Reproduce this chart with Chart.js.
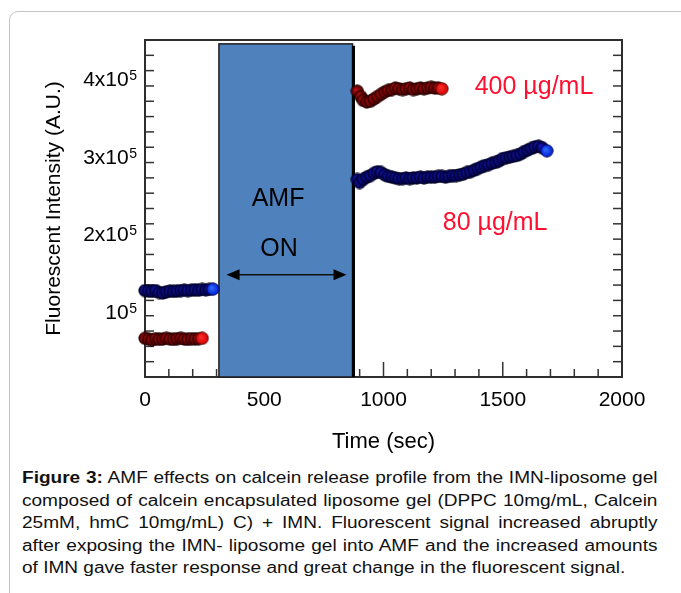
<!DOCTYPE html>
<html>
<head>
<meta charset="utf-8">
<title>AMF calcein release</title>
<script src="https://cdn.jsdelivr.net/npm/chart.js@4"></script>
<style>
    html, body { margin: 0; padding: 0; background: #fff; overflow: hidden; }
    body { width: 681px; height: 593px; position: relative; font-family: "Liberation Sans", Arial, sans-serif; }
    .card { position: absolute; left: 9px; top: 11px; width: 720px; height: 640px; border: 1px solid #c4c4c4; border-radius: 9px; }
    #chart { position: absolute; left: 0; top: 0; }
    .caption { position: absolute; left: 22px; top: 467px; width: 534px; font-size: 16px; line-height: 22.6px; color: #111;
               transform: scaleX(1.19); transform-origin: 0 0; white-space: nowrap; }
    .caption div { text-align: justify; text-align-last: justify; }
    .caption div.last { text-align-last: left; }
</style>
</head>
<body>
<div class="card"></div>
<canvas id="chart" width="681" height="462"></canvas>
<div class="caption">
    <div><b>Figure 3:</b> AMF effects on calcein release profile from the IMN-liposome gel</div>
    <div>composed of calcein encapsulated liposome gel (DPPC 10mg/mL, Calcein</div>
    <div>25mM, hmC 10mg/mL) C) + IMN. Fluorescent signal increased abruptly</div>
    <div>after exposing the IMN- liposome gel into AMF and the increased amounts</div>
    <div class="last">of IMN gave faster response and great change in the fluorescent signal.</div>
</div>
<script>
// 시간 (sec) / 형광 세기 (A.U.) - 그림에서 읽은 값
const timeRedBefore = [0, 15, 30, 45, 60, 75, 90, 105, 120, 135, 150, 165, 180, 195, 210, 225, 240];
const redBefore = [65000, 64000, 63000, 64500, 63500, 64000, 65000, 64000, 63500, 64500, 65000, 64000, 63500, 64500, 64000, 64500, 65000];

const timeBlueBefore = [0, 15, 30, 45, 60, 75, 90, 105, 120, 135, 150, 165, 180, 195, 210, 225, 240, 255, 270, 285];
const blueBefore = [126500, 126000, 125500, 126500, 124000, 123500, 125000, 126000, 125500, 126000, 126500, 127000, 126500, 127000, 127500, 127000, 128000, 127500, 128000, 128500];

const timeRedAfter = [890, 905, 915, 930, 945, 960, 975, 990, 1005, 1020, 1035, 1050, 1065, 1080, 1095, 1110, 1125, 1140, 1155, 1170, 1185, 1200, 1215, 1230, 1245];
const redAfter = [384000, 377000, 372000, 370000, 371000, 374000, 377000, 380000, 383000, 385000, 386000, 388000, 387000, 386000, 387000, 388000, 386000, 387000, 388000, 387000, 388000, 389000, 388000, 388000, 387000];

const timeBlueAfter = [890, 900, 915, 930, 945, 960, 975, 990, 1005, 1020, 1035, 1050, 1065, 1080, 1095, 1110, 1125, 1140, 1155, 1170, 1185, 1200, 1215, 1230, 1245, 1260, 1275, 1290, 1305, 1320, 1335, 1350, 1365, 1380, 1395, 1410, 1425, 1440, 1455, 1470, 1485, 1500, 1515, 1530, 1545, 1560, 1575, 1590, 1605, 1620, 1635, 1650, 1665, 1685];
const blueAfter = [270000, 266000, 270000, 273000, 275000, 278000, 280000, 279000, 276000, 274000, 273000, 272000, 271000, 271000, 272000, 271000, 272000, 272000, 273000, 272000, 273000, 273000, 273000, 274000, 274000, 273000, 274000, 275000, 275000, 276000, 277000, 279000, 280000, 282000, 284000, 286000, 288000, 289000, 291000, 292000, 294000, 297000, 298000, 299000, 300000, 301000, 303000, 306000, 308000, 310000, 312000, 313000, 311000, 307000];

// y축 라벨 (값 -> 앞부분, 지수)
const yLabelValues = [100000, 200000, 300000, 400000];
const yLabelTexts = ['10', '2x10', '3x10', '4x10'];
const yLabelExp = '5';

// AMF ON 구간
const AMF_START = 310;
const AMF_END = 870;
const AMF_TOP = 445000;

const FONT = '"Liberation Sans", Arial, sans-serif';

function pairs(xs, ys) {
    return xs.map((t, i) => ({ x: t, y: ys[i] }));
}

// 구슬 모양 점 이미지 (방사형 그라데이션)
function ballImage(light, dark, edge) {
    const c = document.createElement('canvas');
    c.width = 14;
    c.height = 14;
    const g = c.getContext('2d');
    const grad = g.createRadialGradient(5.5, 5.5, 0, 7, 7, 6.5);
    grad.addColorStop(0, light);
    grad.addColorStop(1, dark);
    g.fillStyle = grad;
    g.beginPath();
    g.arc(7, 7, 6.2, 0, Math.PI * 2);
    g.fill();
    g.strokeStyle = edge;
    g.lineWidth = 0.8;
    g.stroke();
    return c;
}

const redBall = ballImage('#c81010', '#3a0000', '#1a0000');
const redBallLast = ballImage('#ff3030', '#d00000', '#400000');
const blueBall = ballImage('#1818c8', '#00003a', '#00001a');
const blueBallLast = ballImage('#3070ff', '#0018d0', '#000040');

function series(xs, ys, img, imgLast) {
    return {
        data: pairs(xs, ys),
        showLine: false,
        pointRadius: 6,
        pointStyle: ctx => (ctx.dataIndex === xs.length - 1 ? imgLast : img),
        clip: false
    };
}

function line(ctx, x1, y1, x2, y2) {
    ctx.beginPath();
    ctx.moveTo(x1, y1);
    ctx.lineTo(x2, y2);
    ctx.stroke();
}

const decor = {
    id: 'decor',
    beforeDatasetsDraw(chart) {
        const { ctx, chartArea: a, scales: { x, y } } = chart;
        ctx.save();

        // 안쪽 눈금
        ctx.strokeStyle = '#333';
        ctx.lineWidth = 1.5;
        x.ticks.forEach(t => {
            const px = x.getPixelForValue(t.value);
            const len = t.value % 500 === 0 ? 15 : 8;
            line(ctx, px, a.bottom, px, a.bottom - len);
        });
        y.ticks.forEach(t => {
            const py = y.getPixelForValue(t.value);
            const len = t.value % 100000 === 0 ? 16 : 9;
            line(ctx, a.left, py, a.left + len, py);
            line(ctx, a.right, py, a.right - len, py);
        });

        // y축 라벨 (위첨자 지수)
        ctx.fillStyle = '#000';
        ctx.textAlign = 'left';
        ctx.textBaseline = 'alphabetic';
        yLabelValues.forEach((v, i) => {
            const py = y.getPixelForValue(v);
            ctx.font = '14px ' + FONT;
            const supW = ctx.measureText(yLabelExp).width;
            ctx.font = '21px ' + FONT;
            const mainW = ctx.measureText(yLabelTexts[i]).width;
            const right = a.left - 8;
            ctx.fillText(yLabelTexts[i], right - supW - mainW - 0.5, py + 7.5);
            ctx.font = '14px ' + FONT;
            ctx.fillText(yLabelExp, right - supW, py + 1.5);
        });

        // 테두리
        ctx.lineWidth = 2;
        ctx.strokeStyle = '#2e2e2e';
        ctx.strokeRect(a.left, a.top, a.right - a.left, a.bottom - a.top);

        // AMF 박스
        const bx1 = x.getPixelForValue(AMF_START);
        const bx2 = x.getPixelForValue(AMF_END);
        const by = y.getPixelForValue(AMF_TOP);
        ctx.fillStyle = '#4f81bd';
        ctx.fillRect(bx1, by, bx2 - bx1, a.bottom - by);
        ctx.strokeStyle = '#1e1e1e';
        ctx.lineWidth = 1.5;
        ctx.strokeRect(bx1, by, bx2 - bx1, a.bottom - by);
        ctx.strokeStyle = '#000';
        ctx.lineWidth = 3;
        line(ctx, bx2 + 1, by + 2, bx2 + 1, a.bottom);

        // AMF / ON
        ctx.fillStyle = '#000';
        ctx.font = '25px ' + FONT;
        ctx.textAlign = 'center';
        ctx.textBaseline = 'middle';
        ctx.fillText('AMF', x.getPixelForValue(558), y.getPixelForValue(244000));
        ctx.fillText('ON', x.getPixelForValue(562), y.getPixelForValue(180500));

        // 양방향 화살표
        const ax1 = x.getPixelForValue(342);
        const ax2 = x.getPixelForValue(845);
        const ay = y.getPixelForValue(147000);
        ctx.strokeStyle = '#111';
        ctx.lineWidth = 1.3;
        line(ctx, ax1 + 6, ay, ax2 - 6, ay);
        ctx.beginPath();
        ctx.moveTo(ax1, ay); ctx.lineTo(ax1 + 13, ay - 5.5); ctx.lineTo(ax1 + 13, ay + 5.5); ctx.closePath();
        ctx.moveTo(ax2, ay); ctx.lineTo(ax2 - 13, ay - 5.5); ctx.lineTo(ax2 - 13, ay + 5.5); ctx.closePath();
        ctx.fill();

        // 농도 라벨
        ctx.fillStyle = '#ff1030';
        ctx.fillText('400 µg/mL', x.getPixelForValue(1631), y.getPixelForValue(389500));
        ctx.fillText('80 µg/mL', x.getPixelForValue(1468), y.getPixelForValue(213000));

        ctx.restore();
    }
};

new Chart(document.getElementById('chart'), {
    type: 'scatter',
    data: {
        datasets: [
            series(timeRedBefore, redBefore, redBall, redBallLast),
            series(timeBlueBefore, blueBefore, blueBall, blueBallLast),
            series(timeRedAfter, redAfter, redBall, redBallLast),
            series(timeBlueAfter, blueAfter, blueBall, blueBallLast)
        ]
    },
    options: {
        responsive: false,
        animation: false,
        layout: { padding: { left: 0, right: 59, top: 40, bottom: 0 } },
        plugins: { legend: { display: false }, tooltip: { enabled: false } },
        scales: {
            x: {
                type: 'linear',
                min: 0,
                max: 2000,
                grid: { display: false, drawTicks: false },
                border: { display: false },
                ticks: {
                    stepSize: 100,
                    autoSkip: false,
                    maxRotation: 0,
                    padding: 11,
                    color: '#000',
                    font: { family: FONT, size: 21 },
                    callback: v => (v % 500 === 0 ? String(v) : '')
                },
                title: {
                    display: true,
                    text: 'Time (sec)',
                    color: '#000',
                    font: { family: FONT, size: 22 },
                    padding: { top: 0, bottom: 7 }
                },
                afterFit: s => { s.height = 85; }
            },
            y: {
                type: 'linear',
                min: 15000,
                max: 450000,
                grid: { display: false, drawTicks: false },
                border: { display: false },
                ticks: {
                    stepSize: 20000,
                    includeBounds: false,
                    autoSkip: false,
                    callback: () => ''
                },
                title: {
                    display: true,
                    text: 'Fluorescent Intensity (A.U.)',
                    color: '#000',
                    font: { family: FONT, size: 21 },
                    padding: { top: 42, bottom: 0 }
                },
                afterFit: s => { s.width = 145; }
            }
        }
    },
    plugins: [decor]
});
</script>
</body>
</html>
